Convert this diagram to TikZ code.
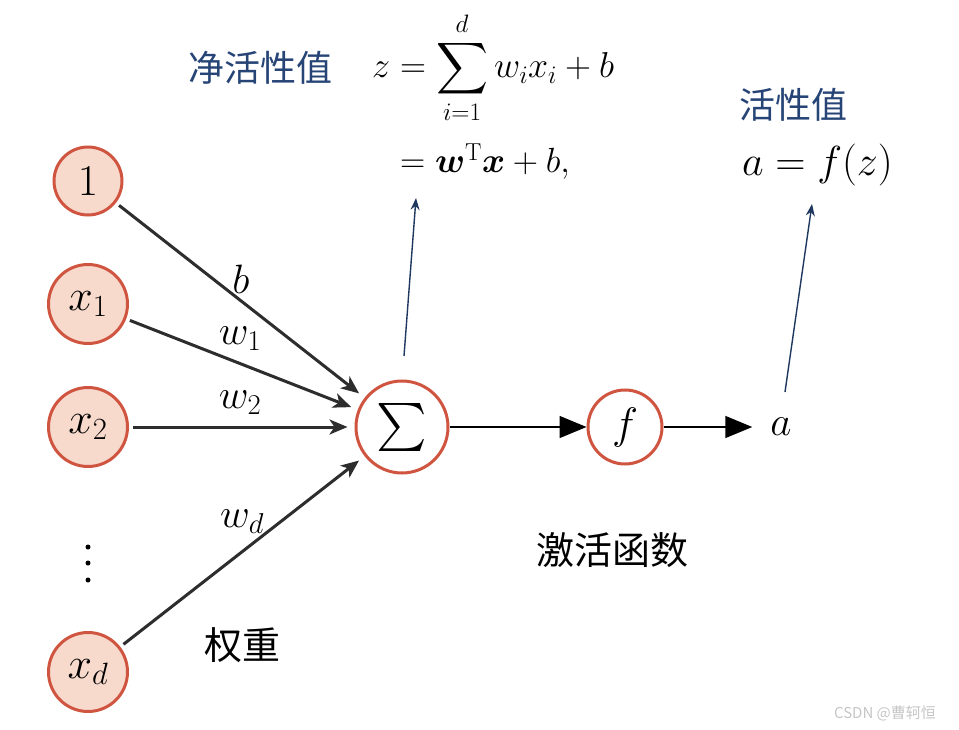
\RequirePackage{fix-cm}
\documentclass[tikz,border=0pt]{standalone}
\usepackage{fontspec}
\usepackage{amsmath,bm}
\DeclareFontShape{OMX}{cmex}{m}{n}{<->cmex10}{}
\usetikzlibrary{arrows.meta}
\newfontfamily\cjk{Noto Sans CJK SC}
\definecolor{nfill}{RGB}{248,218,205}
\definecolor{nborder}{RGB}{208,85,64}
\definecolor{navy}{RGB}{31,56,96}
\definecolor{ttblue}{RGB}{38,68,118}
\definecolor{edgec}{RGB}{45,45,45}
\begin{document}
\begin{tikzpicture}[x=1pt,y=-1pt,
  inp/.style={circle,draw=nborder,fill=nfill,line width=3pt,minimum size=79pt,inner sep=0pt,font=\fontsize{44}{50}\selectfont},
  opn/.style={circle,draw=nborder,fill=white,line width=3pt,inner sep=0pt,font=\fontsize{44}{50}\selectfont},
  mathlbl/.style={inner sep=0pt,font=\fontsize{41}{46}\selectfont},
  inedge/.style={draw=edgec,line width=3pt,-{Stealth[length=18pt,width=15pt,inset=5pt]},shorten >=7pt,shorten <=4pt},
  outedge/.style={draw=black,line width=1.6pt,-{Triangle[length=27pt,width=22pt]}},
  bluearrow/.style={draw=navy,line width=1.4pt,-{Stealth[length=12pt,width=9pt]}},
  bluetitle/.style={inner sep=0pt,text=ttblue,font=\cjk\fontsize{36}{40}\selectfont},
  blacktitle/.style={inner sep=0pt,text=black,font=\cjk\fontsize{38}{42}\selectfont},
  dot/.style={circle,fill=black,inner sep=0pt,minimum size=5pt}
]
\fill[white] (0,0) rectangle (959,730);
\useasboundingbox (0,0) rectangle (959,730);

% input nodes
\node[inp,minimum size=68pt] (one) at (88,181) {$1$};
\node[inp] (x1) at (88,304) {$x_1$};
\node[inp] (x2) at (88,427) {$x_2$};
\node[inp] (xd) at (88,672) {$x_d$};
\node[dot] (d1) at (88,547) {};
\node[dot] (d2) at (88,563) {};
\node[dot] (d3) at (88,580) {};

% operation nodes
\node[opn,minimum size=92pt,font=\fontsize{48}{54}\selectfont] (sum) at (402,427) {$\sum$};
\node[opn,minimum size=74pt] (f) at (625,427) {$f$};
\node[mathlbl,inner sep=2pt] (a) at (781,427) {$a$};

% edges
\draw[inedge] (one) -- (sum);
\draw[inedge] (x1) -- (sum);
\draw[inedge] (x2) -- (sum);
\draw[inedge] (xd) -- (sum);
\draw[outedge] (sum) -- (f);
\draw[outedge,shorten >=16pt] (f) -- (a);

% edge labels
\node[mathlbl] (lb) at (241,279) {$b$};
\node[mathlbl] (lw1) at (240,339) {$w_1$};
\node[mathlbl] (lw2) at (240,403) {$w_2$};
\node[mathlbl] (lwd) at (242,522) {$w_d$};

% annotations
\node[bluetitle] (t1) at (260,68) {净活性值};
\node[inner sep=0pt,font=\fontsize{36}{42}\selectfont,anchor=base west] (eq1) at (372,78) {$\displaystyle z=\sum_{i=1}^{d} w_i x_i + b$};
\node[inner sep=0pt,font=\fontsize{35}{40}\selectfont,anchor=base west] (eq2) at (400,173) {$=\bm{w}^{\mathrm{T}}\bm{x}+b,$};
\node[bluetitle] (t2) at (793,105) {活性值};
\node[inner sep=0pt,font=\fontsize{42}{48}\selectfont,anchor=base west] (eq3) at (742,176) {$a=f(z)$};
\node[blacktitle] (t3) at (612,550) {激活函数};
\node[blacktitle] (t4) at (242,645) {权重};

\coordinate (s1) at (404,356);
\coordinate (e1) at (416,198);
\coordinate (s2) at (785,392);
\coordinate (e2) at (812,204);
\draw[bluearrow] (s1) -- (e1);
\draw[bluearrow] (s2) -- (e2);

\node[inner sep=0pt,text=gray!45,font=\cjk\fontsize{15}{17}\selectfont] (wm) at (885,713) {CSDN @曹轲恒};
\end{tikzpicture}
\end{document}
